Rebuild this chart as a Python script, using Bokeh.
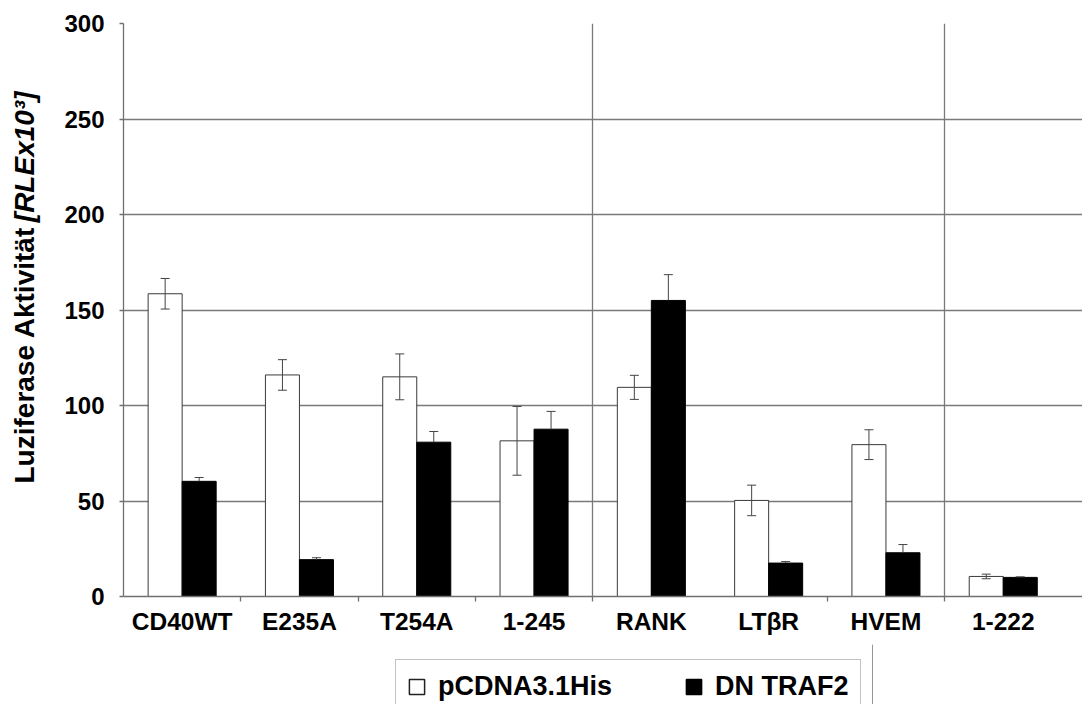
import math
from bokeh.plotting import figure
from bokeh.layouts import row, column
from bokeh.models import (ColumnDataSource, Range1d, FixedTicker, Whisker, TeeHead,
                          Legend, LegendItem, Label)
from bokeh.embed import file_html
from bokeh.resources import INLINE

categories = ["CD40WT", "E235A", "T254A", "1-245", "RANK", "LTβR", "HVEM", "1-222"]
pcdna = [158.5, 116, 115, 81.5, 109.5, 50.3, 79.5, 10.5]
pcdna_err = [8, 8, 12, 18, 6.3, 8, 7.8, 1.2]
dn_traf2 = [60.3, 19.3, 80.8, 87.6, 155, 17.5, 22.9, 10]
dn_traf2_err = [2, 1, 5.6, 9.3, 13.5, 0.8, 4.3, 0.3]
y_ticks = [0, 50, 100, 150, 200, 250, 300]
group_separators = [4, 7]
series_names = ["pCDNA3.1His", "DN TRAF2"]

FONT = "Liberation Sans"
centers = [i + 0.5 for i in range(len(categories))]
off = 0.145
bw = 0.29

src1 = ColumnDataSource(dict(
    x=[c - off for c in centers], top=pcdna,
    upper=[v + e for v, e in zip(pcdna, pcdna_err)],
    lower=[v - e for v, e in zip(pcdna, pcdna_err)]))
src2 = ColumnDataSource(dict(
    x=[c + off for c in centers], top=dn_traf2,
    upper=[v + e for v, e in zip(dn_traf2, dn_traf2_err)],
    lower=dn_traf2))

# ---------------- main chart ----------------
p = figure(width=1032, height=644, output_backend="svg", toolbar_location=None,
           x_range=Range1d(0, 959 / 117.3), y_range=Range1d(0, 300),
           min_border_left=73, min_border_right=0, min_border_top=23,
           min_border_bottom=48)
p.outline_line_color = None

r1 = p.vbar(x="x", top="top", bottom=0, width=bw, source=src1,
            fill_color="white", line_color="#3a3a3a", line_width=1)
r2 = p.vbar(x="x", top="top", bottom=0, width=bw, source=src2,
            fill_color="black", line_color="black", line_width=1)

w1 = Whisker(base="x", upper="upper", lower="lower", source=src1,
             line_color="#444444", line_width=1, level="overlay",
             upper_head=TeeHead(size=9, line_color="#444444", line_width=1),
             lower_head=TeeHead(size=9, line_color="#444444", line_width=1))
w2 = Whisker(base="x", upper="upper", lower="lower", source=src2,
             line_color="#444444", line_width=1, level="overlay",
             upper_head=TeeHead(size=9, line_color="#444444", line_width=1),
             lower_head=None)
p.add_layout(w1)
p.add_layout(w2)

p.xaxis.ticker = FixedTicker(ticks=centers, minor_ticks=[1, 2, 3, 4, 6, 7])
p.xaxis.major_label_overrides = {c: lab for c, lab in zip(centers, categories)}
p.xaxis.major_tick_out = 0
p.xaxis.major_tick_in = 0
p.xaxis.minor_tick_out = 5
p.xaxis.minor_tick_in = 0
p.xaxis.major_label_standoff = 6
p.xaxis.major_label_text_font = FONT
p.xaxis.major_label_text_font_style = "bold"
p.xaxis.major_label_text_font_size = "24.5px"
p.xaxis.major_label_text_color = "black"
p.xaxis.axis_line_color = "#707070"
p.xaxis.axis_line_width = 1.3
p.xaxis.minor_tick_line_color = "#707070"
p.xaxis.minor_tick_line_width = 1.3

p.yaxis.ticker = FixedTicker(ticks=y_ticks, minor_ticks=[])
p.yaxis.major_tick_out = 4
p.yaxis.major_tick_in = 0
p.yaxis.major_label_standoff = 15
p.yaxis.major_label_text_font = FONT
p.yaxis.major_label_text_font_style = "bold"
p.yaxis.major_label_text_font_size = "24px"
p.yaxis.major_label_text_color = "black"
p.yaxis.axis_line_color = "#707070"
p.yaxis.axis_line_width = 1.3
p.yaxis.major_tick_line_color = "#707070"
p.yaxis.major_tick_line_width = 1.3

p.ygrid.ticker = FixedTicker(ticks=y_ticks[1:])
p.ygrid.grid_line_color = "#7a7a7a"
p.ygrid.grid_line_width = 1.3
p.xgrid.ticker = FixedTicker(ticks=group_separators)
p.xgrid.grid_line_color = "#7a7a7a"
p.xgrid.grid_line_width = 1.3

# ---------------- y axis title strip ----------------
lf = figure(width=50, height=704, output_backend="svg", toolbar_location=None,
            x_range=Range1d(0, 50), y_range=Range1d(0, 704),
            min_border_left=0, min_border_right=0, min_border_top=0,
            min_border_bottom=0)
lf.axis.visible = False
lf.grid.visible = False
lf.outline_line_color = None
lab1 = Label(x=24, y=221, text="Luziferase Aktivität ", angle=math.pi / 2,
             text_align="left", text_baseline="alphabetic",
             text_font=FONT, text_font_style="bold", text_font_size="28px",
             text_color="black")
lab2 = Label(x=24, y=613, text="[RLEx10³]", angle=math.pi / 2,
             text_align="right", text_baseline="alphabetic",
             text_font=FONT, text_font_style="bold italic", text_font_size="28px",
             text_color="black")
lf.add_layout(lab1)
lf.add_layout(lab2)

# ---------------- legend strip ----------------
gf = figure(width=823, height=60, output_backend="svg", toolbar_location=None,
            x_range=Range1d(0, 1), y_range=Range1d(0, 1),
            min_border_left=0, min_border_right=0, min_border_top=0,
            min_border_bottom=0)
gf.axis.visible = False
gf.grid.visible = False
gf.outline_line_color = None
g1 = gf.vbar(x=[10], top=[1], bottom=0, width=0.1,
             fill_color="white", line_color="#222222", line_width=1.5)
g2 = gf.vbar(x=[10], top=[1], bottom=0, width=0.1,
             fill_color="black", line_color="black", line_width=1.5)
legend = Legend(items=[LegendItem(label=series_names[0], renderers=[g1]),
                       LegendItem(label=series_names[1], renderers=[g2])],
                orientation="horizontal", location=(272, -10),
                glyph_width=19, glyph_height=19, label_standoff=12, spacing=72,
                padding=11, margin=0,
                label_text_font=FONT, label_text_font_style="bold",
                label_text_font_size="27px", label_text_color="black",
                border_line_color="#888888", border_line_width=1.5,
                background_fill_color="white", background_fill_alpha=1)
gf.add_layout(legend)

layout = row(lf, column(p, gf))
open("out.html", "w").write(file_html(layout, INLINE))
